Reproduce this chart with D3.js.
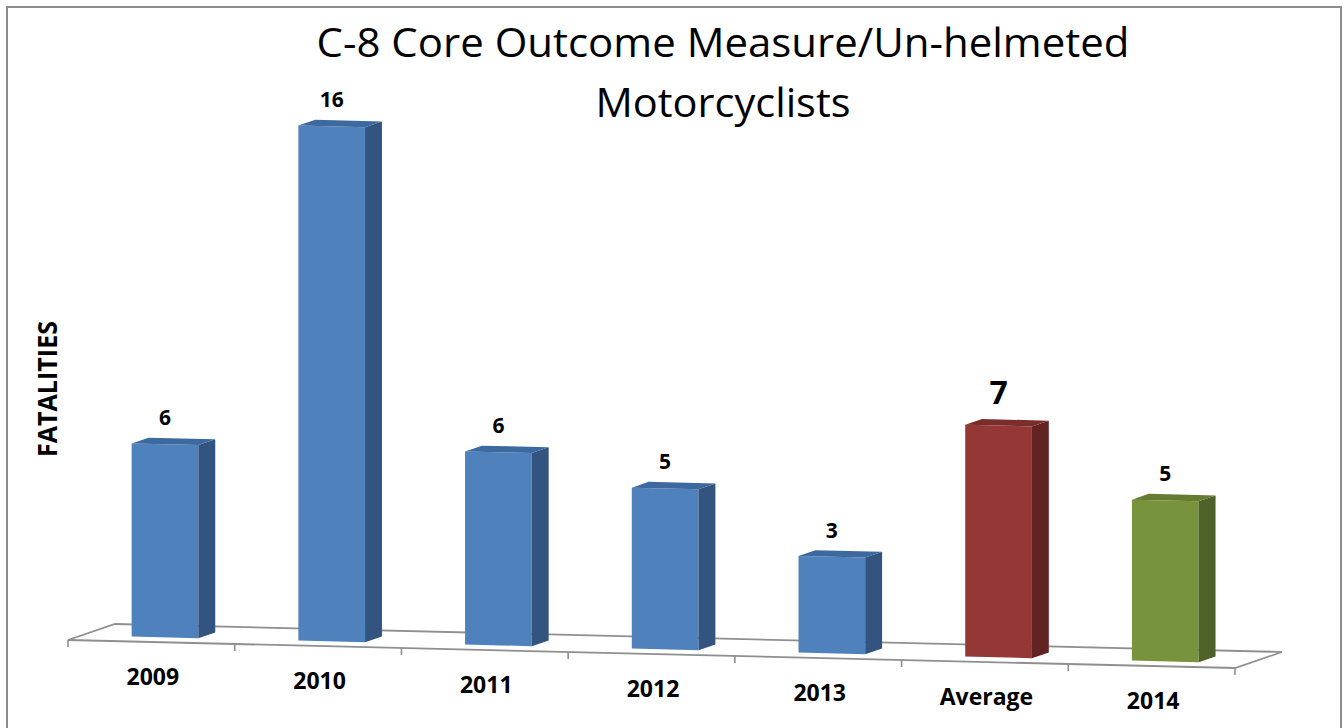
<!DOCTYPE html>
<html lang="en">
<head>
  <meta charset="UTF-8">
  <title>C-8 Core Outcome Measure/Un-helmeted Motorcyclists</title>
  <script src="https://d3js.org/d3.v7.min.js"></script>
  <style>
    body { margin: 0; background: #fff; }
    svg { display: block; }
  </style>
</head>
<body>
<div id="chart"></div>
<script>
// Chart data
const categories = ["2009", "2010", "2011", "2012", "2013", "Average", "2014"];
const fatalities = [6, 16, 6, 5, 3, 7.2, 5];
const titleLines = ["C-8 Core Outcome Measure/Un-helmeted", "Motorcyclists"];
const yLabel = "FATALITIES";

// bar colours: front / side / top
const palette = {
  blue:  { front: "#4f81bd", side: "#32547e", top: "#3d69a1" },
  red:   { front: "#953735", side: "#612423", top: "#7b2d2b" },
  green: { front: "#77933c", side: "#4e6128", top: "#637c31" }
};
const barColour = c => c === "Average" ? palette.red : (c === "2014" ? palette.green : palette.blue);

const W = 1343, H = 728;
const svg = d3.select("#chart").append("svg")
  .attr("width", W).attr("height", H);

// outer border
svg.append("rect")
  .attr("x", 7).attr("y", 7)
  .attr("width", 1334).attr("height", 760)
  .attr("fill", "none")
  .attr("stroke", "#8c8c8c")
  .attr("stroke-width", 2);

// simple oblique projection of the 3D floor
const X0 = 68, Y0 = 640, DX = 47, DY = 16, SLOPE = 0.024;
const floorLen = 1167;
function proj(u, d, h) {
  return [X0 + u + DX * d, Y0 + SLOPE * u - DY * d - (h || 0)];
}

const x = d3.scaleBand().domain(categories).range([0, floorLen]);
const y = d3.scaleLinear().domain([0, 16]).range([0, 515]);
const barW = x.bandwidth() * 0.4;
const d0 = 0.29, d1 = 0.65;

// floor
const floorPts = [proj(0, 0), proj(floorLen, 0), proj(floorLen, 1), proj(0, 1)];
svg.append("path")
  .attr("d", "M" + floorPts.join("L") + "Z")
  .attr("fill", "#fff")
  .attr("stroke", "#8f8f8f")
  .attr("stroke-width", 1.8);

// ticks on the front edge
const tickU = d3.range(categories.length + 1).map(i => i * x.step());
svg.selectAll(".tick")
  .data(tickU)
  .enter().append("line")
  .attr("class", "tick")
  .attr("x1", u => proj(u, 0)[0]).attr("y1", u => proj(u, 0)[1])
  .attr("x2", u => proj(u, 0)[0]).attr("y2", u => proj(u, 0)[1] + 7)
  .attr("stroke", "#8f8f8f")
  .attr("stroke-width", 1.6);

const poly = pts => "M" + pts.map(p => p.join(",")).join("L") + "Z";

const bars = svg.selectAll(".bar")
  .data(categories.map((c, i) => ({ c, v: fatalities[i] })))
  .enter().append("g")
  .attr("class", "bar");

bars.each(function (d) {
  const g = d3.select(this);
  const uL = x(d.c) + (x.bandwidth() - barW) / 2, uR = uL + barW;
  const h = y(d.v);
  const col = barColour(d.c);
  // front
  g.append("path")
    .attr("d", poly([proj(uL, d0, 0), proj(uR, d0, 0), proj(uR, d0, h), proj(uL, d0, h)]))
    .attr("fill", col.front);
  // right side
  g.append("path")
    .attr("d", poly([proj(uR, d0, 0), proj(uR, d1, 0), proj(uR, d1, h), proj(uR, d0, h)]))
    .attr("fill", col.side);
  // top
  g.append("path")
    .attr("d", poly([proj(uL, d0, h), proj(uR, d0, h), proj(uR, d1, h), proj(uL, d1, h)]))
    .attr("fill", col.top);
});

// value labels
const fmt = d3.format(".0f");
bars.append("text")
  .attr("x", d => proj(x(d.c) + x.bandwidth() / 2, d0)[0])
  .attr("y", d => proj(x(d.c) + x.bandwidth() / 2, d0, y(d.v))[1] - (d.c === "Average" ? 22 : 19))
  .attr("text-anchor", "middle")
  .style("font-family", "'Open Sans', sans-serif")
  .style("font-weight", "bold")
  .style("font-size", d => d.c === "Average" ? "32px" : "21px")
  .text(d => fmt(d.v));

// category labels
svg.selectAll(".cat")
  .data(categories)
  .enter().append("text")
  .attr("class", "cat")
  .attr("x", c => proj(x(c) + x.bandwidth() / 2, 0)[0] + 1.5)
  .attr("y", c => proj(x(c) + x.bandwidth() / 2, 0)[1] + 43)
  .attr("text-anchor", "middle")
  .style("font-family", "'Open Sans', sans-serif")
  .style("font-weight", "bold")
  .style("font-size", "23px")
  .text(c => c);

// y-axis title
svg.append("text")
  .attr("transform", "translate(57,389) rotate(-90)")
  .attr("text-anchor", "middle")
  .attr("textLength", 136)
  .attr("lengthAdjust", "spacingAndGlyphs")
  .style("font-family", "'Open Sans', sans-serif")
  .style("font-weight", "bold")
  .style("font-size", "26px")
  .text(yLabel);

// chart title
svg.selectAll(".title")
  .data(titleLines)
  .enter().append("text")
  .attr("class", "title")
  .attr("x", 723)
  .attr("y", (t, i) => 57 + i * 60)
  .attr("text-anchor", "middle")
  .attr("textLength", (t, i) => i === 0 ? 813 : 255)
  .attr("lengthAdjust", "spacingAndGlyphs")
  .style("font-family", "'Open Sans', sans-serif")
  .style("font-size", "40px")
  .text(t => t);
</script>
</body>
</html>
